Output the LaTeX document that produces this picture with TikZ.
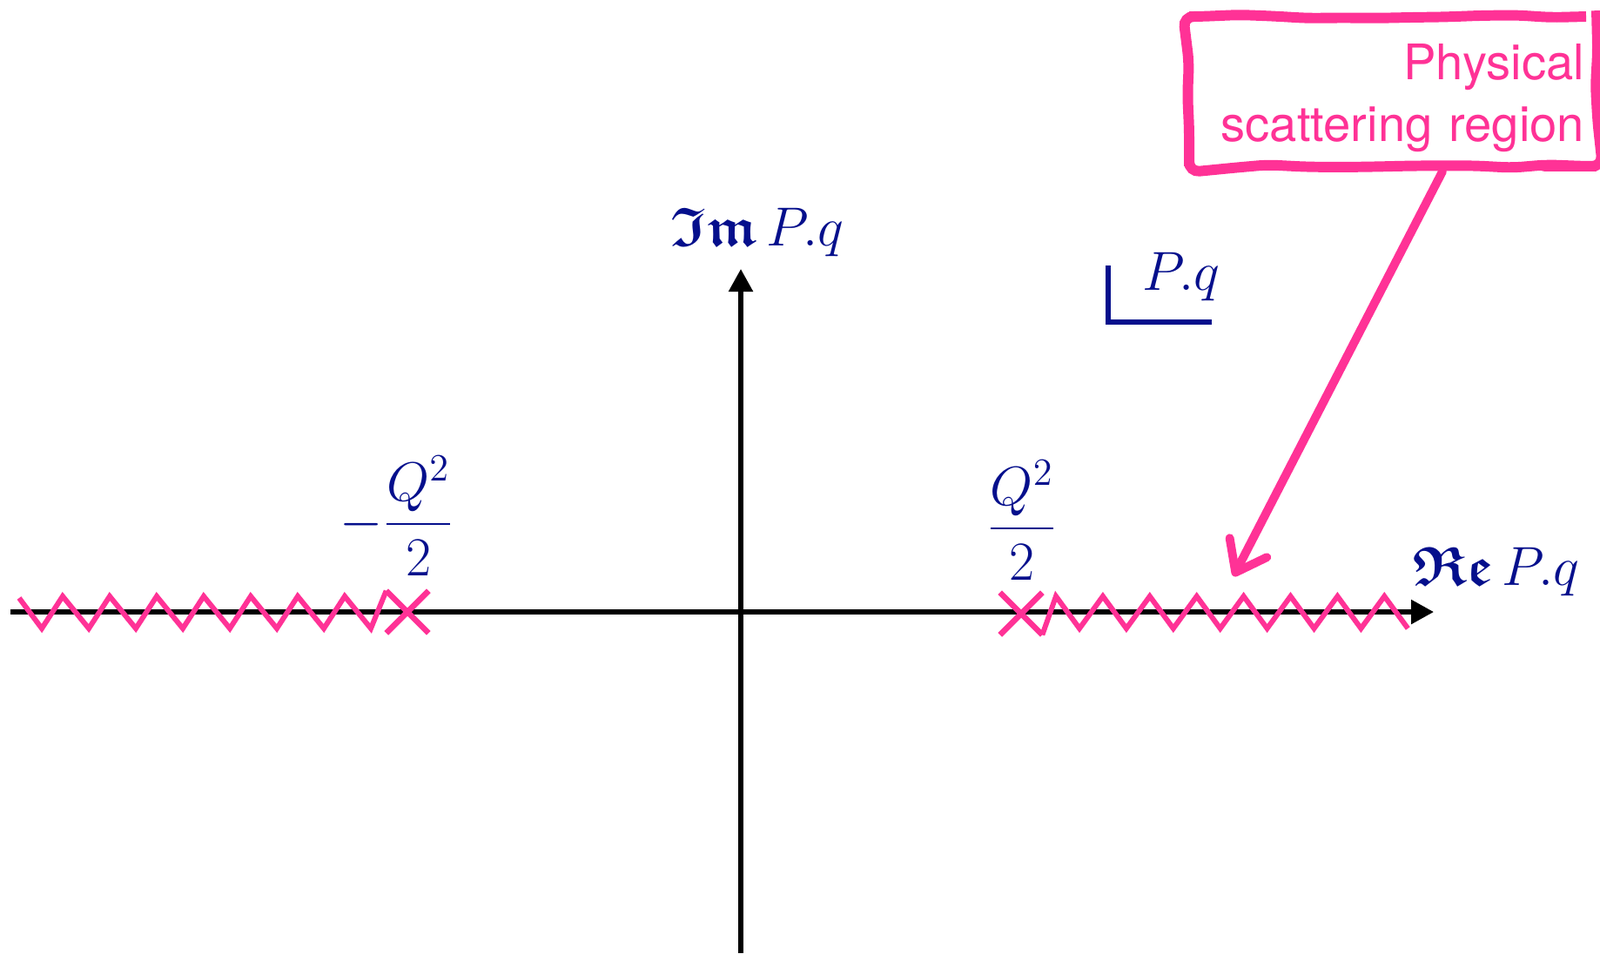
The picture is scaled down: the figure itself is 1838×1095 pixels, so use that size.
\RequirePackage{fix-cm}
\documentclass[tikz,border=0pt]{standalone}
\usepackage{amsmath,amssymb}
\usepackage{fontspec}
\newfontfamily\calloutfont{TeX Gyre Heros}
\usetikzlibrary{arrows.meta,shapes.misc,decorations.pathmorphing}
\definecolor{cutpink}{RGB}{255,50,150}
\definecolor{labelblue}{RGB}{5,15,140}

\begin{document}
\begin{tikzpicture}[
  x=0.1mm, y=-0.1mm,
  axis/.style={line width=1.55pt, -{Triangle[length=2.6mm,width=2.7mm]}},
  cut/.style={cutpink, line width=1.7pt, line join=miter},
  pole/.style={cross out, draw=cutpink, line width=1.9pt, minimum size=4.2mm, inner sep=0pt},
  lbl/.style={labelblue, font=\fontsize{18}{22}\selectfont, inner sep=0pt},
  callout/.style={draw=cutpink, text=cutpink, line width=3.4pt, rounded corners=1.2mm,
    decorate, decoration={random steps, segment length=4mm, amplitude=0.2mm},
    minimum width=46.8mm, minimum height=17.2mm, text width=44mm, align=right,
    inner xsep=1.4mm, font=\calloutfont\fontsize{16}{20}\selectfont},
  pointer/.style={cutpink, line width=2.8pt, line cap=round,
    -{Straight Barb[length=3.2mm,width=4.8mm,round]}}
]
\useasboundingbox (0,0) rectangle (1838,1095);

% axes
\coordinate (W) at (12,703);
\coordinate (E) at (1647,703);
\coordinate (S) at (851,1095);
\coordinate (N) at (851,309);
\draw[axis] (W) -- (E);
\draw[axis] (S) -- (N);

% branch points and cuts
\node[pole] (poleL) at (468,703) {};
\node[pole] (poleR) at (1173,705) {};
\draw[cut] (22,687) \foreach \i in {0,...,6} {-- ({48+54*\i},722) -- ({72+54*\i},685)}
  -- (426,722) -- (poleL.north west);
\draw[cut] (poleR.south east) \foreach \i in {0,...,7} {-- ({1213+53.9*\i},685) -- ({1240+53.9*\i},722)};

% labels
\node[lbl, anchor=base west] (im) at (770,282) {$\boldsymbol{\mathfrak{Im}}\,P.q$};
\node[lbl, anchor=base west] (re) at (1623,672) {$\boldsymbol{\mathfrak{Re}}\,P.q$};
\node[lbl, anchor=base west] (plane) at (1312,333) {$P.q$};
\draw[labelblue, line width=1.7pt] (1273,305) |- (1392,370);
\node[lbl, anchor=base] (qneg) at (456,618) {$-\dfrac{Q^2}{2}$};
\node[lbl, anchor=base] (qpos) at (1174,623) {$\dfrac{Q^2}{2}$};

% callout
\node[callout] (callout) at (1600,105) {\rule{0pt}{5.6mm}Physical\\scattering region};
\coordinate (hit) at (1417,662);
\draw[pointer] ([xshift=5.7mm]callout.south) -- (hit);
\end{tikzpicture}
\end{document}
